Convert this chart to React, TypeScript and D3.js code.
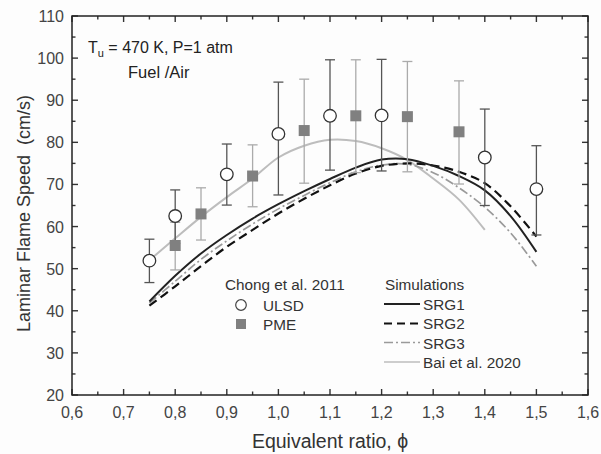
import React from "react";
import * as d3 from "d3";

const W = 601, H = 454;
const M = { left: 72, right: 13, top: 16, bottom: 59 };

const xTicks = [0.6, 0.7, 0.8, 0.9, 1.0, 1.1, 1.2, 1.3, 1.4, 1.5, 1.6];
const yTicks = [20, 30, 40, 50, 60, 70, 80, 90, 100, 110];

const ulsdPhi = [0.75, 0.8, 0.9, 1.0, 1.1, 1.2, 1.4, 1.5];
const ulsdVal = [51.9, 62.5, 72.4, 82.0, 86.3, 86.4, 76.4, 68.9];
const ulsdLo = [46.7, 56.0, 65.1, 67.5, 73.4, 73.2, 65.0, 58.0];
const ulsdHi = [57.0, 68.7, 79.6, 94.3, 99.6, 99.7, 87.9, 79.2];

const pmePhi = [0.8, 0.85, 0.95, 1.05, 1.15, 1.25, 1.35];
const pmeVal = [55.5, 63.0, 72.0, 82.8, 86.3, 86.1, 82.5];
const pmeLo = [49.7, 56.8, 64.7, 70.3, 72.8, 73.0, 70.1];
const pmeHi = [61.0, 69.2, 79.4, 95.0, 99.6, 99.2, 94.6];

const simPhi = [0.75, 0.8, 0.85, 0.9, 0.95, 1.0, 1.05, 1.1, 1.15, 1.2, 1.25, 1.3, 1.35, 1.4, 1.45, 1.5];
const srg1 = [42.2, 48.3, 53.6, 58.0, 61.9, 65.3, 68.4, 71.3, 74.0, 75.9, 76.0, 74.4, 72.0, 68.6, 62.5, 54.0];
const srg2 = [41.2, 45.8, 50.6, 55.2, 59.2, 63.1, 66.6, 69.8, 72.6, 74.4, 75.0, 74.5, 73.0, 70.3, 64.8, 57.6];
const srg3 = [41.8, 47.0, 52.2, 56.6, 60.6, 64.2, 67.4, 70.4, 73.0, 74.6, 74.8, 72.8, 69.2, 64.6, 58.5, 50.6];

const baiPhi = [0.75, 0.8, 0.85, 0.9, 0.95, 1.0, 1.05, 1.1, 1.15, 1.2, 1.25, 1.3, 1.35, 1.4];
const baiVal = [52.0, 57.2, 62.3, 67.0, 71.4, 76.4, 79.2, 80.6, 80.3, 78.6, 75.8, 71.4, 66.4, 59.2];

const FONT = "'Liberation Sans', Arial, sans-serif";
const LEG = 15.3;

export default function App() {
  const x = d3.scaleLinear().domain([0.6, 1.6]).range([M.left, W - M.right]);
  const y = d3.scaleLinear().domain([20, 110]).range([H - M.bottom, M.top]);
  const x0 = x.range()[0], x1 = x.range()[1];
  const y0 = y.range()[0], y1 = y.range()[1];

  const line = d3
    .line<[number, number]>()
    .x((d) => x(d[0]))
    .y((d) => y(d[1]))
    .curve(d3.curveCatmullRom.alpha(0.5));

  const mk = (xs: number[], ys: number[]) => line(xs.map((p, i) => [p, ys[i]] as [number, number])) || "";

  const xMinor = d3.range(0, 21).map((i) => 0.6 + i * 0.05);
  const yMinor = d3.range(0, 19).map((i) => 20 + i * 5);

  const tickColor = "#333";
  const textColor = "#333";

  return (
    <svg width={W} height={H} style={{ position: "absolute", left: 0, top: 0, background: "#fff" }}>
      <rect x={0} y={0} width={W} height={H} fill="#fdfdfd" />
      {/* ticks */}
      {xMinor.map((v, i) => {
        const major = i % 2 === 0;
        const len = major ? 6 : 3.5;
        return (
          <g key={"xt" + i}>
            <line x1={x(v)} x2={x(v)} y1={y0} y2={y0 - len} stroke={tickColor} strokeWidth={1.4} />
            <line x1={x(v)} x2={x(v)} y1={y1} y2={y1 + len} stroke={tickColor} strokeWidth={1.4} />
          </g>
        );
      })}
      {yMinor.map((v, i) => {
        const major = i % 2 === 0;
        const len = major ? 6 : 3.5;
        return (
          <g key={"yt" + i}>
            <line x1={x0} x2={x0 + len} y1={y(v)} y2={y(v)} stroke={tickColor} strokeWidth={1.4} />
            <line x1={x1} x2={x1 - len} y1={y(v)} y2={y(v)} stroke={tickColor} strokeWidth={1.4} />
          </g>
        );
      })}
      <rect x={x0} y={y1} width={x1 - x0} height={y0 - y1} fill="none" stroke="#222" strokeWidth={1.5} />

      {/* tick labels */}
      {xTicks.map((v) => (
        <text key={"xl" + v} x={x(v)} y={y0 + 23} textAnchor="middle" fontFamily={FONT} fontSize={16} fill="#444">
          {v.toFixed(1).replace(".", ",")}
        </text>
      ))}
      {yTicks.map((v) => (
        <text key={"yl" + v} x={x0 - 8} y={y(v) + 6} textAnchor="end" fontFamily={FONT} fontSize={16} fill="#444">
          {v}
        </text>
      ))}

      {/* axis titles */}
      <text x={330} y={448} textAnchor="middle" fontFamily={FONT} fontSize={19.5} fill={textColor}>
        Equivalent ratio, ϕ
      </text>
      <text
        transform={`translate(30, ${(y0 + y1) / 2 + 8}) rotate(-90)`}
        textAnchor="middle"
        fontFamily={FONT}
        fontSize={18}
        fill={textColor}
        style={{ whiteSpace: "pre" }}
      >
        {"Laminar Flame Speed  (cm/s)"}
      </text>

      {/* annotations */}
      <text x={88} y={53} fontFamily={FONT} fontSize={16} fill="#222">
        T<tspan fontSize={11} dy={4}>u</tspan>
        <tspan dy={-4}> = 470 K, P=1 atm</tspan>
      </text>
      <text x={128} y={78} fontFamily={FONT} fontSize={16.5} fill="#222">
        Fuel /Air
      </text>

      {/* simulation lines */}
      <path d={mk(baiPhi, baiVal)} fill="none" stroke="#bdbdbd" strokeWidth={2} />
      <path d={mk(simPhi, srg3)} fill="none" stroke="#9a9a9a" strokeWidth={1.7} strokeDasharray="9,3,2,3" />
      <path d={mk(simPhi, srg2)} fill="none" stroke="#111" strokeWidth={2.2} strokeDasharray="9,5" />
      <path d={mk(simPhi, srg1)} fill="none" stroke="#222" strokeWidth={2} />

      {/* PME error bars */}
      {pmePhi.map((p, i) => (
        <g key={"pe" + i}>
          <line x1={x(p)} x2={x(p)} y1={y(pmeLo[i])} y2={y(pmeHi[i])} stroke="#ababab" strokeWidth={1.3} />
          <line x1={x(p) - 5} x2={x(p) + 5} y1={y(pmeLo[i])} y2={y(pmeLo[i])} stroke="#ababab" strokeWidth={1.3} />
          <line x1={x(p) - 5} x2={x(p) + 5} y1={y(pmeHi[i])} y2={y(pmeHi[i])} stroke="#ababab" strokeWidth={1.3} />
        </g>
      ))}
      {/* ULSD error bars */}
      {ulsdPhi.map((p, i) => (
        <g key={"ue" + i}>
          <line x1={x(p)} x2={x(p)} y1={y(ulsdLo[i])} y2={y(ulsdHi[i])} stroke="#555" strokeWidth={1.3} />
          <line x1={x(p) - 5} x2={x(p) + 5} y1={y(ulsdLo[i])} y2={y(ulsdLo[i])} stroke="#555" strokeWidth={1.3} />
          <line x1={x(p) - 5} x2={x(p) + 5} y1={y(ulsdHi[i])} y2={y(ulsdHi[i])} stroke="#555" strokeWidth={1.3} />
        </g>
      ))}
      {pmePhi.map((p, i) => (
        <rect key={"pm" + i} x={x(p) - 5.5} y={y(pmeVal[i]) - 5.5} width={11} height={11} fill="#808080" />
      ))}
      {ulsdPhi.map((p, i) => (
        <circle key={"um" + i} cx={x(p)} cy={y(ulsdVal[i])} r={6.3} fill="#fff" stroke="#333" strokeWidth={1.3} />
      ))}

      {/* legend: Chong */}
      <text x={225} y={290} fontFamily={FONT} fontSize={LEG} fill="#333">
        Chong et al. 2011
      </text>
      <circle cx={241} cy={305} r={5.3} fill="#fff" stroke="#444" strokeWidth={1.2} />
      <text x={263} y={310.5} fontFamily={FONT} fontSize={LEG} fill="#333">
        ULSD
      </text>
      <rect x={236} y={319} width={10} height={10} fill="#808080" />
      <text x={263} y={329.5} fontFamily={FONT} fontSize={LEG} fill="#333">
        PME
      </text>

      {/* legend: Simulations */}
      <text x={385} y={290} fontFamily={FONT} fontSize={LEG} fill="#333">
        Simulations
      </text>
      <line x1={384} x2={420} y1={304} y2={304} stroke="#222" strokeWidth={2} />
      <text x={423} y={309.5} fontFamily={FONT} fontSize={LEG} fill="#333">SRG1</text>
      <line x1={384} x2={420} y1={323.5} y2={323.5} stroke="#111" strokeWidth={2.2} strokeDasharray="8,5" />
      <text x={423} y={329} fontFamily={FONT} fontSize={LEG} fill="#333">SRG2</text>
      <line x1={384} x2={420} y1={342.5} y2={342.5} stroke="#9a9a9a" strokeWidth={1.7} strokeDasharray="9,3,2,3" />
      <text x={423} y={348.5} fontFamily={FONT} fontSize={LEG} fill="#333">SRG3</text>
      <line x1={384} x2={420} y1={362} y2={362} stroke="#bdbdbd" strokeWidth={1.5} />
      <text x={423} y={367.5} fontFamily={FONT} fontSize={LEG} fill="#333">Bai et al. 2020</text>
    </svg>
  );
}
